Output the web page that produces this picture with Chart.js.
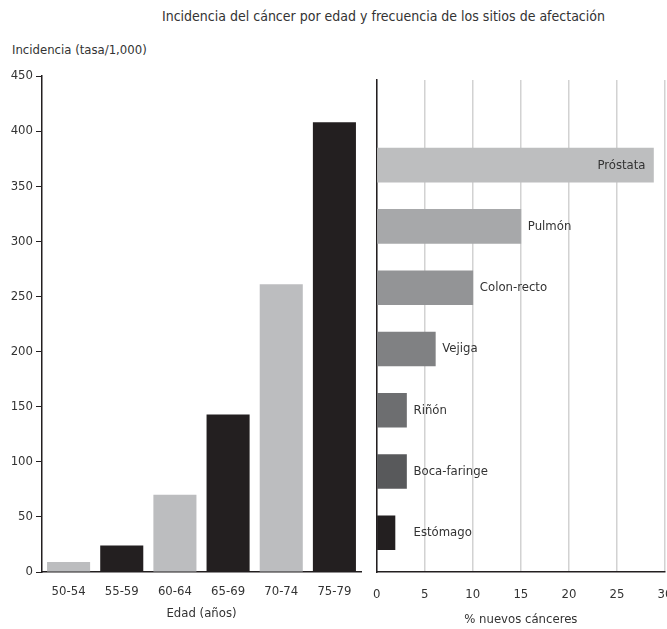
<!DOCTYPE html>
<html lang="es">
<head>
<meta charset="utf-8">
<title>Incidencia del cáncer</title>
<script src="https://cdn.jsdelivr.net/npm/chart.js@4.4.1/dist/chart.umd.min.js"></script>
<style>
  html, body { margin: 0; padding: 0; background: #fff; overflow: hidden; }
  #wrap { position: relative; width: 667px; height: 629px; overflow: hidden; }
  .txt { position: absolute; white-space: nowrap; color: #333; font: 14px "Liberation Sans Narrow", "Arial Narrow", "DejaVu Sans Condensed", sans-serif; }
  #title { left: 162px; top: 8px; }
  #ylab { left: 12px; top: 42px; font-size: 13px; }
  #cLeft { position: absolute; left: 0; top: 0; }
  #cRight { position: absolute; left: 358px; top: 0; }
</style>
</head>
<body>
<div id="wrap">
  <div class="txt" id="title">Incidencia del cáncer por edad y frecuencia de los sitios de afectación</div>
  <div class="txt" id="ylab">Incidencia (tasa/1,000)</div>
  <div id="cLeft" style="width:368px;height:629px"><canvas id="left"></canvas></div>
  <div id="cRight" style="width:330px;height:629px"><canvas id="right"></canvas></div>
</div>
<script>
/* ===== datos ===== */
var ageGroups = ["50-54", "55-59", "60-64", "65-69", "70-74", "75-79"];
var incidence = [9, 24, 70, 143, 261, 408];
var ageColors = ["#bcbdbf", "#231f20", "#bcbdbf", "#231f20", "#bcbdbf", "#231f20"];

var sites = ["Próstata", "Pulmón", "Colon-recto", "Vejiga", "Riñón", "Boca-faringe", "Estómago"];
var sitePct = [28.8, 15, 10, 6.1, 3.1, 3.1, 1.9];
var siteColors = ["#bdbebf", "#a7a8aa", "#939496", "#808183", "#6d6e70", "#58595b", "#231f20"];

(function () {
  "use strict";
  var FONT = "'Liberation Sans Narrow', 'Arial Narrow', 'DejaVu Sans Condensed', sans-serif";
  var INK = "#231f20", TXT = "#333333";
  Chart.defaults.font.family = FONT;
  Chart.defaults.font.size = 13;
  Chart.defaults.color = TXT;
  Chart.defaults.animation = false;

  // incidencia por edad
  new Chart(document.getElementById("left"), {
    type: "bar",
    data: {
      labels: ageGroups,
      datasets: [{ data: incidence, backgroundColor: ageColors, barPercentage: 0.81, categoryPercentage: 1 }]
    },
    options: {
      responsive: true, maintainAspectRatio: false,
      layout: { padding: { top: 76, right: 7, left: 0, bottom: 0 } },
      plugins: { legend: { display: false }, tooltip: { enabled: false } },
      scales: {
        x: {
          grid: { display: false },
          border: { display: true, color: INK, width: 1.5 },
          ticks: { padding: 4, color: TXT },
          title: { display: true, text: "Edad (años)", color: TXT, padding: { top: 2, bottom: 8 } },
          afterFit: function (s) { s.height = 57; }
        },
        y: {
          min: 0, max: 450,
          ticks: { stepSize: 50, padding: 3, color: TXT },
          grid: { drawOnChartArea: false, drawTicks: true, tickLength: 6, color: INK },
          border: { display: true, color: INK, width: 1.5 },
          afterFit: function (s) { s.width = 42; }
        }
      }
    }
  });

  // rótulos de las barras horizontales
  var barLabels = {
    id: "barLabels",
    afterDatasetsDraw: function (chart) {
      var ctx = chart.ctx, xs = chart.scales.x, meta = chart.getDatasetMeta(0);
      ctx.save();
      ctx.font = "13px " + FONT;
      ctx.fillStyle = TXT;
      ctx.textBaseline = "middle";
      meta.data.forEach(function (bar, i) {
        var v = sitePct[i];
        if (v > 25) {
          ctx.textAlign = "right";
          ctx.fillText(sites[i], bar.x - 8, bar.y);
        } else {
          ctx.textAlign = "left";
          ctx.fillText(sites[i], xs.getPixelForValue(Math.max(v, 3.1)) + 7, bar.y);
        }
      });
      ctx.restore();
    }
  };

  // sitios de afectación
  new Chart(document.getElementById("right"), {
    type: "bar",
    data: {
      datasets: [{
        data: sites.map(function (s, i) { return { x: sitePct[i], y: i }; }),
        backgroundColor: siteColors, barThickness: 34
      }]
    },
    options: {
      indexAxis: "y",
      responsive: true, maintainAspectRatio: false,
      layout: { padding: { top: 80, right: 23, left: 2, bottom: 0 } },
      plugins: { legend: { display: false }, tooltip: { enabled: false } },
      scales: {
        x: {
          type: "linear", min: 0, max: 30,
          ticks: { stepSize: 5, padding: 15, color: TXT },
          grid: { color: "#d2d2d2", lineWidth: 1.5, drawTicks: false },
          border: { display: true, color: INK, width: 1.5 },
          title: { display: true, text: "% nuevos cánceres", color: TXT, padding: { top: 4, bottom: 2 } },
          afterFit: function (s) { s.height = 57; }
        },
        y: {
          type: "linear", reverse: true, offset: false, min: -1.39, max: 6.64,
          ticks: { display: false },
          grid: { display: false },
          border: { display: true, color: INK, width: 1.5 },
          afterFit: function (s) { s.width = 0; }
        }
      }
    },
    plugins: [barLabels]
  });
})();
</script>
</body>
</html>
